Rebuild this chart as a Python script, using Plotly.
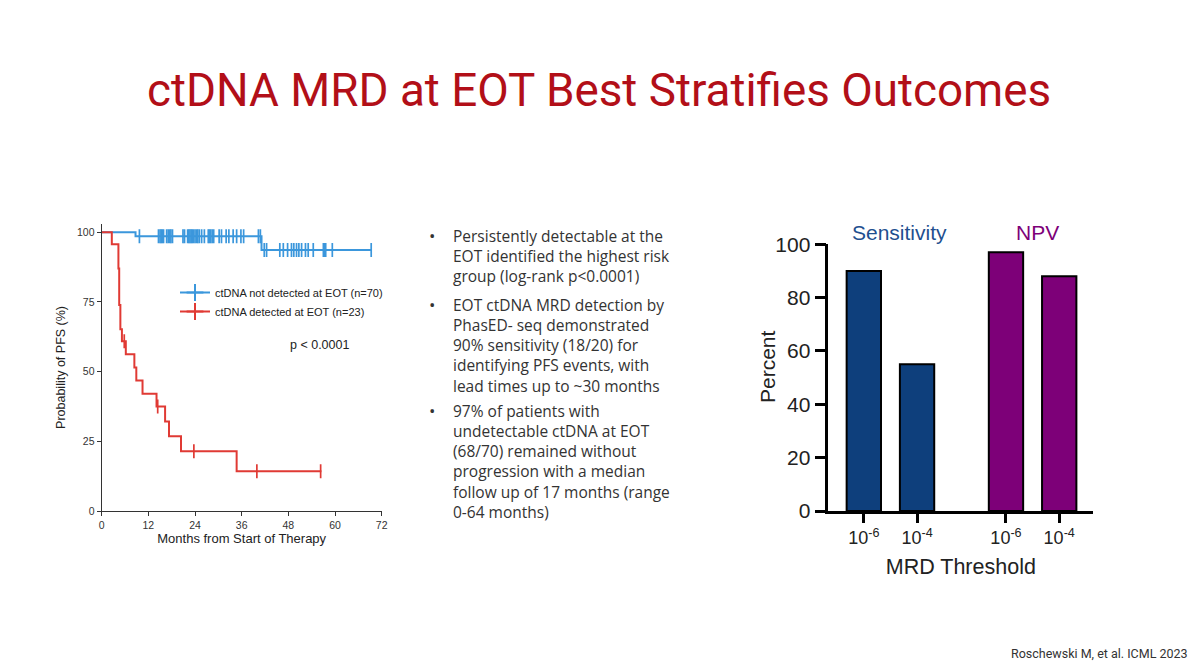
import plotly.graph_objects as go

# ---- Kaplan-Meier data ----
red_step_t = [0, 2.6, 4.3, 4.5, 4.8, 5.2, 6.2, 8.4, 8.9, 10.5, 14.1, 16.3, 17.3, 20.4, 34.7, 56.5]
red_step_s = [100, 95.7, 87.0, 73.9, 65.2, 60.9, 56.2, 51.5, 46.8, 42.1, 37.5, 32.1, 26.8, 21.4, 14.3, 14.3]
red_cens_t = [5.8, 14.4, 23.7, 39.9, 56.3]
red_cens_s = [60.9, 37.5, 21.4, 14.3, 14.3]

blue_step_t = [0, 8.7, 41.1, 69.5]
blue_step_s = [100, 98.6, 93.6, 93.6]
blue_cens_hi = [9.7, 14.6, 15.0, 15.3, 15.6, 15.9, 16.7, 17.1, 17.5, 17.8, 18.2, 20.9, 21.3,
                22.1, 22.4, 22.7, 23.0, 23.3, 23.6, 24.0, 24.4, 24.7, 25.1, 25.7, 26.4, 27.4,
                27.7, 28.0, 28.4, 28.8, 30.2, 30.8, 32.0, 32.7, 33.8, 34.7, 35.8, 36.5, 40.3, 40.8]
blue_cens_lo = [41.8, 42.4, 45.8, 46.7, 47.8, 48.8, 49.4, 50.1, 50.7, 51.4, 52.4, 53.1, 54.4,
                57.0, 57.3, 57.6, 59.3, 69.3]
km_labels = ["ctDNA not detected at EOT (n=70)", "ctDNA detected at EOT (n=23)"]

# ---- bar chart data ----
bar_pos = [1, 2, 3.67, 4.67]
bar_vals = [90, 55, 97, 88]
bar_ticks = ["10<sup>-6</sup>", "10<sup>-4</sup>", "10<sup>-6</sup>", "10<sup>-4</sup>"]
bar_cols = ["#0e3f7c", "#0e3f7c", "#7d0078", "#7d0078"]

bullets = [
    "Persistently detectable at the<br>EOT identified the highest risk<br>group (log-rank p<0.0001)",
    "EOT ctDNA MRD detection by<br>PhasED- seq demonstrated<br>90% sensitivity (18/20) for<br>identifying PFS events, with<br>lead times up to ~30 months",
    "97% of patients with<br>undetectable ctDNA at EOT<br>(68/70) remained without<br>progression with a median<br>follow up of 17 months (range<br>0-64 months)",
]
bullet_y = [235, 304, 410]   # centre of each bullet's first line, px from top

BLUE = "#3b97dc"
RED = "#e03a34"
km_font = "Liberation Sans, Arial, sans-serif"
# the page puts the plot 8px in from the top-left corner
OX, OY = 8, 8
W, H = 1200 - OX, 668 - OY


def px(x, y):
    return (x - OX) / W, 1 - (y - OY) / H


fig = go.Figure()

# KM curves
fig.add_trace(go.Scatter(x=blue_step_t, y=blue_step_s, mode="lines", line=dict(color=BLUE, width=2, shape="hv"),
                         showlegend=False, xaxis="x", yaxis="y"))
fig.add_trace(go.Scatter(x=red_step_t, y=red_step_s, mode="lines", line=dict(color=RED, width=2, shape="hv"),
                         showlegend=False, xaxis="x", yaxis="y"))
fig.add_trace(go.Scatter(x=blue_cens_hi + blue_cens_lo,
                         y=[blue_step_s[1]] * len(blue_cens_hi) + [blue_step_s[2]] * len(blue_cens_lo),
                         mode="markers", marker=dict(symbol="line-ns", size=10, line=dict(color=BLUE, width=1.7)),
                         showlegend=False, xaxis="x", yaxis="y"))
fig.add_trace(go.Scatter(x=red_cens_t, y=red_cens_s, mode="markers",
                         marker=dict(symbol="line-ns", size=10, line=dict(color=RED, width=1.7)),
                         showlegend=False, xaxis="x", yaxis="y"))
# legend entries
for name, col in zip(km_labels, [BLUE, RED]):
    fig.add_trace(go.Scatter(x=[None], y=[None], mode="lines+markers", name=name,
                             line=dict(color=col, width=2),
                             marker=dict(symbol="cross-thin", size=12, line=dict(color=col, width=2)),
                             xaxis="x", yaxis="y"))

# bars
fig.add_trace(go.Bar(x=bar_pos, y=bar_vals, width=0.645, marker=dict(color=bar_cols, line=dict(color="black", width=2)),
                     showlegend=False, xaxis="x2", yaxis="y2"))


def note(text, x, y, size, color, family, xanchor="center", yanchor="middle", align="center", angle=0):
    ax, ay = px(x, y)
    return dict(text=text, x=ax, y=ay, xref="paper", yref="paper", xanchor=xanchor, yanchor=yanchor,
                align=align, showarrow=False, textangle=angle, font=dict(family=family, size=size, color=color))


annotations = [
    note("ctDNA MRD at EOT Best Stratifies Outcomes", 599, 91, 45.8, "#b20f18", "Roboto"),
    note("p < 0.0001", 288, 345, 12.5, "#222", km_font, xanchor="left"),
    note("Sensitivity", 899, 233, 21, "#1f4f8f", km_font),
    note("NPV", 1037, 233, 21, "#7d0078", km_font),
    note("Percent", 767, 367, 21, "#222", km_font, angle=-90),
    note("Roschewski M, et al. ICML 2023", 1190, 653, 12.5, "#333", "Roboto", xanchor="right"),
]
for txt, yy in zip(bullets, bullet_y):
    annotations.append(note("•", 432, yy, 17, "#333", "Open Sans"))
    annotations.append(note(txt, 451, yy - 12, 15.5, "#333", "Open Sans", xanchor="left", yanchor="top",
                            align="left"))

lx, ly = px(175, 278)
fig.update_layout(
    width=W, height=H,
    margin=dict(l=0, r=0, t=0, b=0, autoexpand=False),
    paper_bgcolor="white", plot_bgcolor="white",
    annotations=annotations,
    legend=dict(x=lx, y=ly, xanchor="left", yanchor="top", bgcolor="rgba(0,0,0,0)",
                font=dict(family=km_font, size=11, color="#222"), itemwidth=30, tracegroupgap=0),
    xaxis=dict(domain=[px(101.7, 0)[0], px(381.7, 0)[0]], range=[0, 72], tickvals=[0, 12, 24, 36, 48, 60, 72],
               showgrid=False, zeroline=False, showline=True, linecolor="#333", linewidth=1.2,
               ticks="outside", ticklen=4, tickcolor="#333", tickfont=dict(family=km_font, size=10.5, color="#333"),
               title=dict(text="Months from Start of Therapy", font=dict(family=km_font, size=13, color="#222"),
                          standoff=1), anchor="y"),
    yaxis=dict(domain=[px(0, 511)[1], px(0, 223.9)[1]], range=[0, 103], tickvals=[0, 25, 50, 75, 100],
               showgrid=False, zeroline=False, showline=True, linecolor="#333", linewidth=1.2,
               ticks="outside", ticklen=4, tickcolor="#333", tickfont=dict(family=km_font, size=10.5, color="#333"),
               title=dict(text="Probability of PFS (%)", font=dict(family=km_font, size=12.5, color="#222"),
                          standoff=8), anchor="x"),
    xaxis2=dict(domain=[px(828.3, 0)[0], px(1093.3, 0)[0]], range=[0.333, 5.31], tickvals=bar_pos,
                ticktext=bar_ticks,
                showgrid=False, zeroline=False, showline=True, linecolor="black", linewidth=2.5,
                ticks="outside", ticklen=9, tickwidth=2.5, tickcolor="black",
                tickfont=dict(family=km_font, size=18, color="#222"),
                title=dict(text="MRD Threshold", font=dict(family=km_font, size=21.5, color="#222"), standoff=12),
                anchor="y2"),
    yaxis2=dict(domain=[px(0, 511)[1], px(0, 244.3)[1]], range=[0, 100], tickvals=[0, 20, 40, 60, 80, 100],
                showgrid=False, zeroline=False, showline=True, linecolor="black", linewidth=2.5,
                ticks="outside", ticklen=11, tickwidth=2.5, tickcolor="black",
                tickfont=dict(family=km_font, size=21, color="#222"), anchor="x2"),
)

fig.write_html("out.html")
